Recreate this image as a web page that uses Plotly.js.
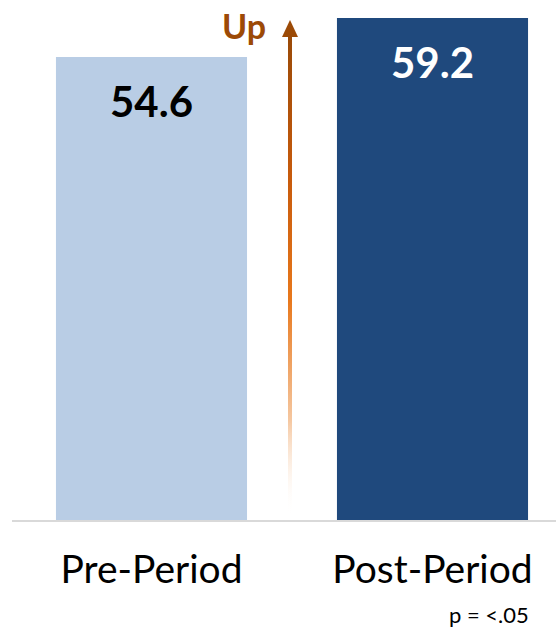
<!DOCTYPE html>
<html>
<head>
<meta charset="utf-8">
<script src="https://cdn.plot.ly/plotly-3.0.1.min.js"></script>
<style>
html,body{margin:0;padding:0;background:#fff;}
#chart{width:556px;height:627px;}
</style>
</head>
<body>
<div id="chart"></div>
<script>
const categories = ["Pre-Period", "Post-Period"];
const values = [54.6, 59.2];
const valueLabels = ["54.6", "59.2"];
const barColors = ["#B9CDE5", "#1F497D"];
const labelColors = ["#000000", "#FFFFFF"];
const arrowLabel = "Up";
const footnote = "p = <.05";

const W = 556, H = 627;
const mL = 12, mR = 0, mT = 0, mB = 107;
const plotW = W - mL - mR, plotH = H - mT - mB;
function px2paperX(px){ return (px - mL) / plotW; }
function px2paperY(py){ return (H - mB - py) / plotH; }

const arrowSvg =
  '<svg xmlns="http://www.w3.org/2000/svg" width="20" height="500" viewBox="0 0 20 500" preserveAspectRatio="none">' +
  '<defs><linearGradient id="g" x1="0" y1="0" x2="0" y2="1">' +
  '<stop offset="0" stop-color="#9A4A08"/>' +
  '<stop offset="0.3" stop-color="#C85B0C"/>' +
  '<stop offset="0.55" stop-color="#E8781C"/>' +
  '<stop offset="0.8" stop-color="#F5C7A0"/>' +
  '<stop offset="1" stop-color="#FFFFFF" stop-opacity="0"/>' +
  '</linearGradient></defs>' +
  '<polygon points="10,2 2,19 18,19" fill="#9C4A06"/>' +
  '<rect x="8" y="18" width="4" height="480" fill="url(#g)"/>' +
  '</svg>';
const arrowSrc = 'data:image/svg+xml;base64,' + btoa(arrowSvg);

const trace = {
  type: "bar",
  x: categories,
  y: values,
  marker: { color: barColors, line: { width: 0 } },
  hoverinfo: "none"
};

const annotations = categories.map((c, i) => ({
  x: c, y: values[i], xref: "x", yref: "y",
  text: "<b>" + valueLabels[i] + "</b>",
  showarrow: false,
  yanchor: "middle",
  yshift: -44,
  font: { family: "Lato, 'Open Sans', sans-serif", size: 42, color: labelColors[i] }
}));
annotations.push({
  xref: "paper", yref: "paper",
  x: px2paperX(268), y: px2paperY(25),
  xanchor: "right", yanchor: "middle",
  text: "<b>" + arrowLabel + "</b>",
  showarrow: false,
  font: { family: "Lato, 'Open Sans', sans-serif", size: 34, color: "#9C4A06" }
});
annotations.push({
  xref: "paper", yref: "paper",
  x: px2paperX(531), y: px2paperY(614),
  xanchor: "right", yanchor: "middle",
  text: footnote,
  showarrow: false,
  font: { family: "Lato, 'Open Sans', sans-serif", size: 22, color: "#000000" }
});

const layout = {
  width: W, height: H,
  margin: { l: mL, r: mR, t: mT, b: mB, pad: 0 },
  paper_bgcolor: "#FFFFFF",
  plot_bgcolor: "#FFFFFF",
  showlegend: false,
  bargap: 0.32,
  xaxis: {
    type: "category",
    range: [-0.4964, 1.4395],
    showline: true, linecolor: "#D9D9D9", linewidth: 2,
    showgrid: false, zeroline: false,
    ticks: "", ticklabelstandoff: 14,
    tickfont: { family: "Lato, 'Open Sans', sans-serif", size: 39, color: "#000000" },
    fixedrange: true
  },
  yaxis: {
    range: [0, 61.32],
    showgrid: false, zeroline: false, showline: false,
    showticklabels: false, ticks: "",
    fixedrange: true
  },
  annotations: annotations,
  images: [{
    source: arrowSrc,
    xref: "paper", yref: "paper",
    x: px2paperX(280), y: px2paperY(18),
    sizex: 20 / plotW, sizey: 500 / plotH,
    xanchor: "left", yanchor: "top",
    sizing: "stretch",
    layer: "above"
  }]
};

Plotly.newPlot("chart", [trace], layout, { displayModeBar: false, staticPlot: true });
</script>
</body>
</html>
